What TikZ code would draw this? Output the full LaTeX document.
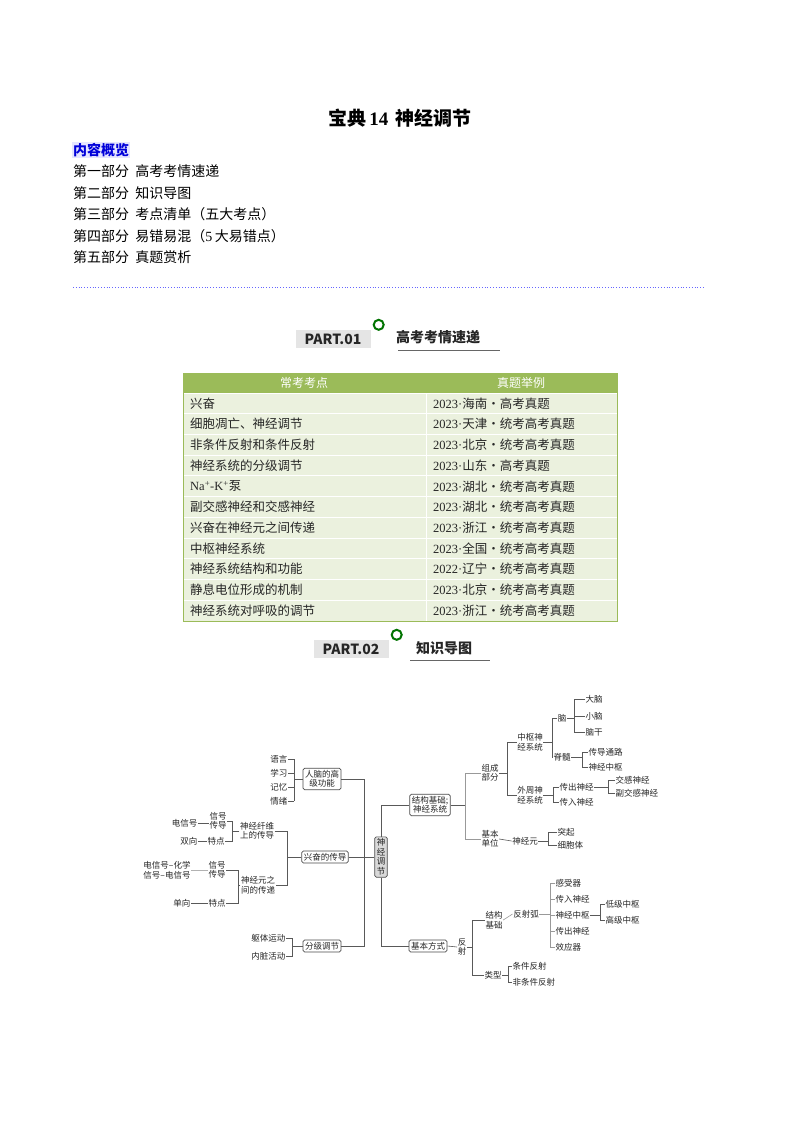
\documentclass[tikz,border=0pt]{standalone}
\usepackage{fontspec}
\setmainfont{Noto Sans CJK SC}
\newfontfamily\serifnum{Liberation Serif}
\definecolor{hdr}{HTML}{9BBB59}
\definecolor{rowc}{HTML}{EBF1DE}
\newcommand{\yr}[2]{{\serifnum #1·}#2}
\begin{document}
\begin{tikzpicture}[x=1pt,y=-1pt,
  mt/.style={font=\fontsize{8.5}{9.5}\selectfont,inner sep=0.5pt,align=center,text=black!85},
  bx/.style={mt,draw=black!70,rounded corners=1.5pt,inner sep=2pt,line width=0.7pt},
  ln/.style={draw=black!65,line width=0.6pt},
  body/.style={font=\fontsize{14}{16}\selectfont,anchor=west,inner sep=0},
  cell/.style={font=\fontsize{12.5}{14}\selectfont,anchor=west,inner sep=0,text=black!85}]
\useasboundingbox (0,0) rectangle (800,1132);
\fill[white] (0,0) rectangle (800,1132);
% title
\node[font=\fontsize{19}{22}\selectfont\bfseries] (title) at (400,118) {宝典\,{\serifnum\bfseries 14}\, 神经调节};
\node[body,fill=blue!10,text=blue!85!black,font=\fontsize{14}{16}\selectfont\bfseries,inner sep=1pt] (gl) at (72,150) {内容概览};
\node[body] (p1) at (73,171) {第一部分\ \ 高考考情速递};
\node[body] (p2) at (73,193) {第二部分\ \ 知识导图};
\node[body] (p3) at (73,214) {第三部分\ \ 考点清单（五大考点）};
\node[body] (p4) at (73,236) {第四部分\ \ 易错易混（{\serifnum 5}\,大易错点）};
\node[body] (p5) at (73,257) {第五部分\ \ 真题赏析};
\draw[blue!60,dotted,line width=0.8pt] (73,287) -- (705,287);
% PART.01
\node[fill=black!10,font=\fontsize{14}{16}\selectfont\bfseries,text=black!85,minimum width=75,minimum height=18,inner sep=0] (pa1) at (333,339) {PART.01};
\draw[green!45!black,line width=2pt] (pa1.north east)++(8,-5) circle (5);
\node[font=\fontsize{14}{16}\selectfont\bfseries,text=black!85] (h1) at (438,337) {高考考情速递};
\draw[black!60,line width=0.8pt] (398,350) -- (500,350);
% table
\fill[hdr] (183,373) rectangle (617,393);
\node[font=\fontsize{12}{14}\selectfont,text=white] (th1) at (304,383) {常考考点};
\node[font=\fontsize{12}{14}\selectfont,text=white] (th2) at (521,383) {真题举例};
\foreach \a/\b [count=\i from 0] in {
 兴奋/{\yr{2023}{海南·高考真题}},
 细胞凋亡、神经调节/{\yr{2023}{天津·统考高考真题}},
 非条件反射和条件反射/{\yr{2023}{北京·统考高考真题}},
 神经系统的分级调节/{\yr{2023}{山东·高考真题}},
 {{\serifnum Na\textsuperscript{+}-K\textsuperscript{+}}泵}/{\yr{2023}{湖北·统考高考真题}},
 副交感神经和交感神经/{\yr{2023}{湖北·统考高考真题}},
 兴奋在神经元之间传递/{\yr{2023}{浙江·统考高考真题}},
 中枢神经系统/{\yr{2023}{全国·统考高考真题}},
 神经系统结构和功能/{\yr{2022}{辽宁·统考高考真题}},
 静息电位形成的机制/{\yr{2023}{北京·统考高考真题}},
 神经系统对呼吸的调节/{\yr{2023}{浙江·统考高考真题}}} {
  \pgfmathsetmacro\ya{393+20.73*\i}
  \pgfmathsetmacro\yb{393+20.73*(\i+1)}
  \pgfmathsetmacro\yc{393+20.73*(\i+0.5)}
  \fill[rowc,draw=white,line width=1pt] (183,\ya) rectangle (426,\yb);
  \fill[rowc,draw=white,line width=1pt] (426,\ya) rectangle (617,\yb);
  \node[cell] (ca\i) at (190,\yc) {\a};
  \node[cell] (cb\i) at (433,\yc) {\b};
}
\draw[hdr,line width=1pt] (183,373) rectangle (617,621);
% PART.02
\node[fill=black!10,font=\fontsize{14}{16}\selectfont\bfseries,text=black!85,minimum width=75,minimum height=18,inner sep=0] (pa2) at (351,649) {PART.02};
\draw[green!45!black,line width=2pt] (pa2.north east)++(8,-5) circle (5);
\node[font=\fontsize{14}{16}\selectfont\bfseries,text=black!85] (h2) at (444,648) {知识导图};
\draw[black!60,line width=0.8pt] (410,660) -- (490,660);

% ===== mind map =====
\node[bx,fill=black!15] (ct) at (381,857) {神\\经\\调\\节};
\node[bx] (hn) at (322,779) {人脑的高\\级功能};
\node[bx] (xf) at (325,857) {兴奋的传导};
\node[bx] (fj) at (322,946) {分级调节};
\node[bx] (jg) at (430,805) {结构基础;\\神经系统};
\node[bx] (jb) at (428,946) {基本方式};
\coordinate (s1) at (364,0);
\draw[ln] (hn.east) -- (hn.east -| s1) |- (fj.east);
\draw[ln] (xf.east) -- (ct.west);
\draw[ln] (ct.north) |- (jg.west);
\draw[ln] (ct.south) |- (jb.west);
% left: hn
\node[mt,anchor=east] (yy) at (288,759) {语言};
\node[mt,anchor=east] (xx) at (288,773) {学习};
\node[mt,anchor=east] (jy) at (288,787) {记忆};
\node[mt,anchor=east] (qx) at (288,801) {情绪};
\coordinate (b1) at (294,0);
\draw[ln] (hn.west) -- (hn.west -| b1);
\foreach \c in {yy,xx,jy,qx} \draw[ln] (\c.east) -- (\c.east -| b1);
\draw[ln] (b1 |- yy.east) -- (b1 |- qx.east);
% xf
\node[mt] (sj1) at (257,831) {神经纤维\\上的传导};
\node[mt] (sj2) at (258,885) {神经元之\\间的传递};
\coordinate (b2) at (287,0);
\draw[ln] (xf.west) -- (xf.west -| b2);
\draw[ln] (sj1.east) -- (sj1.east -| b2) -- (b2 |- sj2.east) -- (sj2.east);
\node[mt] (xh1) at (218,821) {信号\\传导};
\node[mt] (td1) at (216,841) {特点};
\coordinate (b3) at (232,0);
\draw[ln] (xh1.east) -- (xh1.east -| b3) -- (b3 |- td1.east) -- (td1.east);
\draw[ln] (sj1.west) -- (sj1.west -| b3);
\node[mt,anchor=east] (dx) at (198,823) {电信号};
\draw[ln] (dx.east) -- (xh1.west |- dx.east);
\node[mt,anchor=east] (sx) at (198,841) {双向};
\draw[ln] (sx.east) -- (td1.west);
\node[mt] (xh2) at (217,870) {信号\\传导};
\node[mt] (td2) at (217,903) {特点};
\coordinate (b4) at (238,0);
\draw[ln] (xh2.east) -- (xh2.east -| b4) -- (b4 |- td2.east) -- (td2.east);
\draw[ln] (sj2.west) -- (sj2.west -| b4);
\node[mt] (ds) at (167,870) {电信号–化学\\信号–电信号};
\draw[ln,black!30] (ds.east) -- (xh2.west);
\node[mt,anchor=east] (dy) at (191,903) {单向};
\draw[ln] (dy.east) -- (td2.west);
% fj
\node[mt,anchor=east] (qt) at (286,938) {躯体运动};
\node[mt,anchor=east] (nz) at (286,956) {内脏活动};
\coordinate (b5) at (292,0);
\draw[ln] (fj.west) -- (fj.west -| b5);
\draw[ln] (qt.east) -- (qt.east -| b5) -- (b5 |- nz.east) -- (nz.east);
% right: jg
\node[mt] (zc) at (490,773) {组成\\部分};
\node[mt] (jd) at (490,839) {基本\\单位};
\coordinate (b6) at (465,0);
\draw[ln] (jg.east) -- (jg.east -| b6);
\draw[ln,black!40] (zc.west) -- (zc.west -| b6) -- (b6 |- jd.west) -- (jd.west);
\node[mt] (zs) at (530,742) {中枢神\\经系统};
\node[mt] (wz) at (530,795) {外周神\\经系统};
\coordinate (b7) at (507,0);
\draw[ln] (zc.east) -- (zc.east -| b7);
\draw[ln] (zs.west) -- (zs.west -| b7) -- (b7 |- wz.west) -- (wz.west);
\node[mt] (nao) at (562,718) {脑};
\node[mt] (js) at (562,757) {脊髓};
\coordinate (b8) at (552,0);
\draw[ln] (zs.east) -- (zs.east -| b8);
\draw[ln] (nao.west) -- (nao.west -| b8) -- (b8 |- js.west) -- (js.west);
\node[mt,anchor=west] (dn) at (585,699) {大脑};
\node[mt,anchor=west] (xn) at (585,716) {小脑};
\node[mt,anchor=west] (ng) at (585,732) {脑干};
\coordinate (b9) at (574,0);
\draw[ln] (nao.east) -- (nao.east -| b9);
\draw[ln] (dn.west) -- (dn.west -| b9) -- (b9 |- ng.west) -- (ng.west);
\draw[ln] (xn.west) -- (xn.west -| b9);
\node[mt,anchor=west] (cd) at (588,752) {传导通路};
\node[mt,anchor=west] (sz) at (588,767) {神经中枢};
\coordinate (b10) at (582,0);
\draw[ln] (js.east) -- (js.east -| b10);
\draw[ln] (cd.west) -- (cd.west -| b10) -- (b10 |- sz.west) -- (sz.west);
\node[mt,anchor=west] (cc) at (559,787) {传出神经};
\node[mt,anchor=west] (cr) at (559,802) {传入神经};
\coordinate (b11) at (553,0);
\draw[ln] (wz.east) -- (wz.east -| b11);
\draw[ln] (cc.west) -- (cc.west -| b11) -- (b11 |- cr.west) -- (cr.west);
\node[mt,anchor=west] (jgs) at (615,780) {交感神经};
\node[mt,anchor=west] (fjg) at (615,793) {副交感神经};
\coordinate (b12) at (608,0);
\draw[ln] (cc.east) -- (cc.east -| b12);
\draw[ln] (jgs.west) -- (jgs.west -| b12) -- (b12 |- fjg.west) -- (fjg.west);
\node[mt] (sjy) at (525,841) {神经元};
\draw[ln] (jd.east) -- (sjy.west);
\node[mt,anchor=west] (tq) at (557,832) {突起};
\node[mt,anchor=west] (xbt) at (557,845) {细胞体};
\coordinate (b13) at (548,0);
\draw[ln] (sjy.east) -- (sjy.east -| b13);
\draw[ln] (tq.west) -- (tq.west -| b13) -- (b13 |- xbt.west) -- (xbt.west);
% jb
\node[mt] (fs) at (462,947) {反\\射};
\draw[ln] (jb.east) -- (fs.west);
\node[mt] (jgjc) at (494,920) {结构\\基础};
\node[mt] (lx) at (493,975) {类型};
\coordinate (b14) at (472,0);
\draw[ln] (fs.east) -- (fs.east -| b14);
\draw[ln] (jgjc.west) -- (jgjc.west -| b14) -- (b14 |- lx.west) -- (lx.west);
\node[mt] (fsh) at (526,914) {反射弧};
\draw[ln,black!40] (jgjc.east) -- (fsh.west);
\node[mt,anchor=west] (gsq) at (555,883) {感受器};
\node[mt,anchor=west] (crs) at (555,899) {传入神经};
\node[mt,anchor=west] (sjz) at (555,915) {神经中枢};
\node[mt,anchor=west] (ccs) at (555,931) {传出神经};
\node[mt,anchor=west] (xyq) at (555,947) {效应器};
\coordinate (b15) at (550,0);
\draw[ln,black!40] (fsh.east) -- (fsh.east -| b15);
\draw[ln,black!40] (gsq.west) -- (gsq.west -| b15) -- (b15 |- xyq.west) -- (xyq.west);
\foreach \c in {crs,sjz,ccs} \draw[ln,black!40] (\c.west) -- (\c.west -| b15);
\node[mt,anchor=west] (dj) at (605,904) {低级中枢};
\node[mt,anchor=west] (gj) at (605,920) {高级中枢};
\coordinate (b16) at (600,0);
\draw[ln] (sjz.east) -- (sjz.east -| b16);
\draw[ln] (dj.west) -- (dj.west -| b16) -- (b16 |- gj.west) -- (gj.west);
\node[mt,anchor=west] (tj) at (512,966) {条件反射};
\node[mt,anchor=west] (ftj) at (512,982) {非条件反射};
\coordinate (b17) at (508,0);
\draw[ln] (lx.east) -- (lx.east -| b17);
\draw[ln] (tj.west) -- (tj.west -| b17) -- (b17 |- ftj.west) -- (ftj.west);
\end{tikzpicture}
\end{document}
